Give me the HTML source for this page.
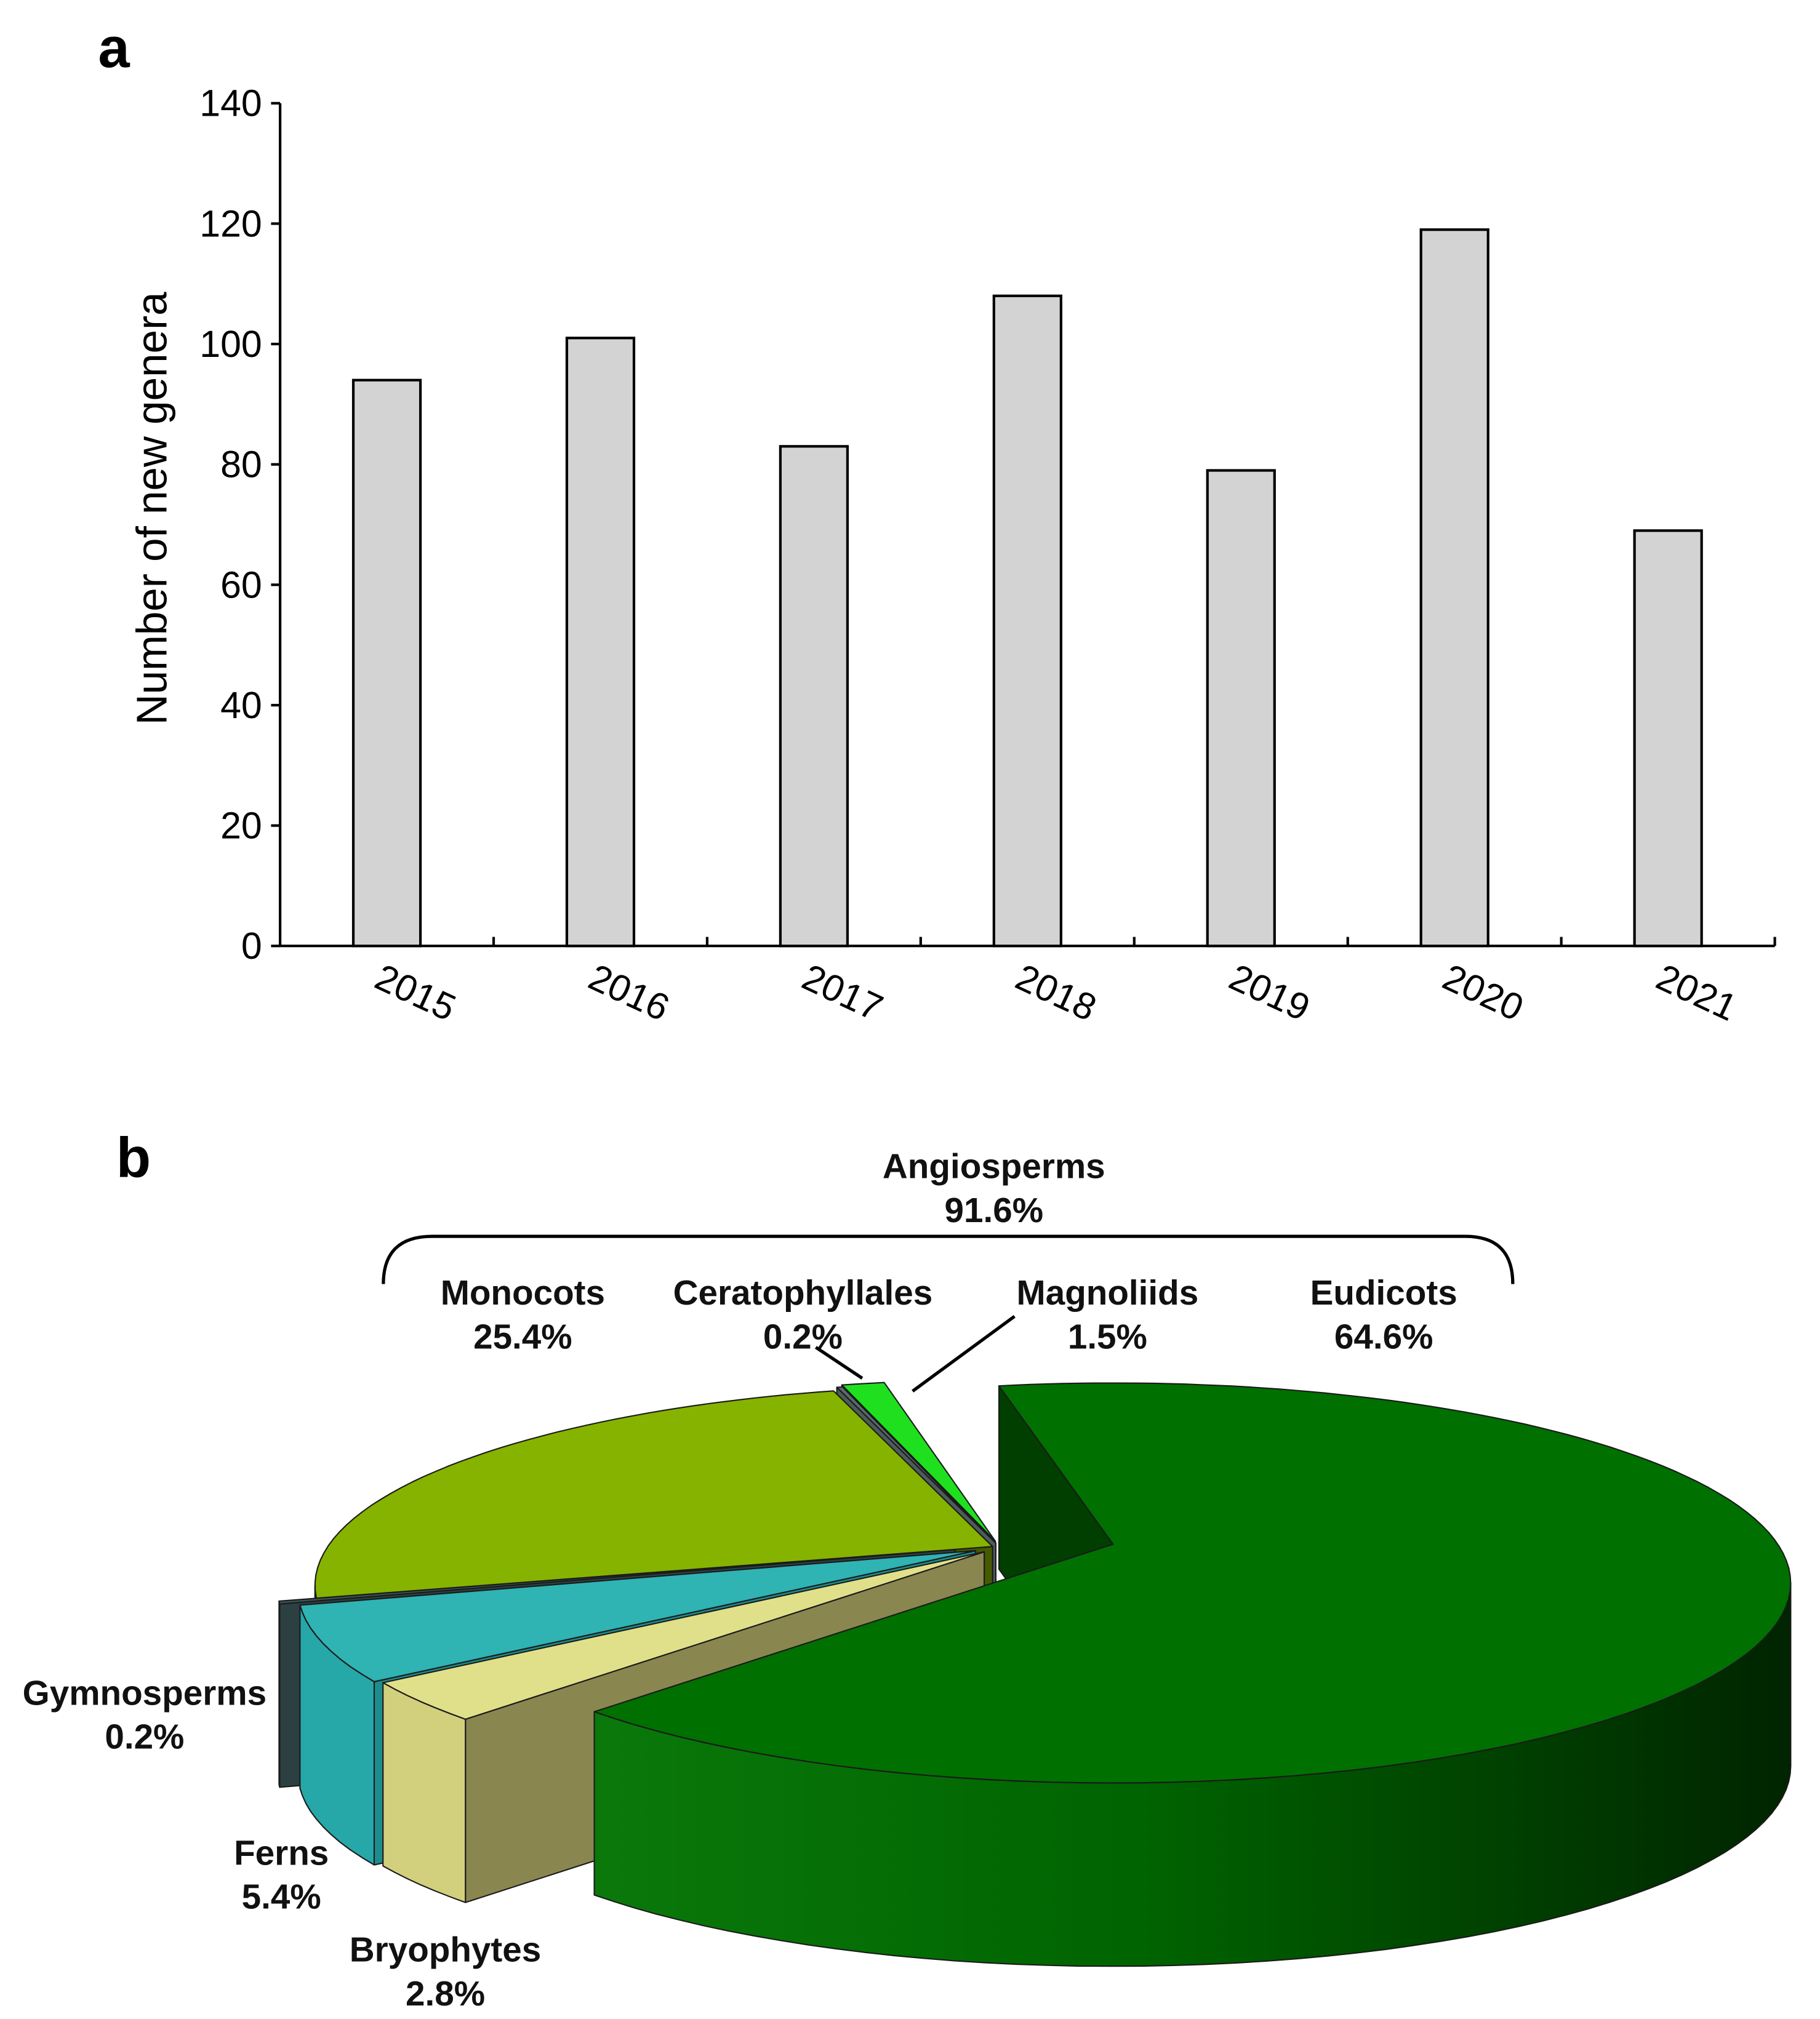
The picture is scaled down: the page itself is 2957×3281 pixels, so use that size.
<!DOCTYPE html>
<html><head><meta charset="utf-8"><style>
html,body{margin:0;padding:0;background:#fff;}
svg{display:block;font-family:"Liberation Sans",Arial,sans-serif;}
</style></head><body>
<svg id="fig" width="2957" height="3281" viewBox="0 0 1410 1564.5" xmlns="http://www.w3.org/2000/svg">
<defs>
<linearGradient id="eudWall" x1="470" y1="0" x2="1390" y2="0" gradientUnits="userSpaceOnUse">
<stop offset="0" stop-color="#0a780a"/><stop offset="0.45" stop-color="#006400"/><stop offset="1" stop-color="#002400"/>
</linearGradient>
</defs>
<g id="chartA"></g>
<g id="chartB"></g>
<text x="76" y="52" font-size="44" font-weight="bold">a</text>
<text x="90" y="912" font-size="44" font-weight="bold">b</text>
</svg>
<script>
const NS='http://www.w3.org/2000/svg';
// ---- chart a data ----
const years=['2015','2016','2017','2018','2019','2020','2021'];
const genera=[94,101,83,108,79,119,69];
const yTicks=[0,20,40,60,80,100,120,140];
// ---- chart b data ----
const groups=['Eudicots','Bryophytes','Ferns','Gymnosperms','Monocots','Ceratophyllales','Magnoliids'];
const shares=[64.6,2.8,5.4,0.2,25.4,0.2,1.5];

function mk(tag,attrs,parent){const e=document.createElementNS(NS,tag);for(const k in attrs)e.setAttribute(k,attrs[k]);parent.appendChild(e);return e;}

// ---- chart a ----
const A=document.getElementById('chartA');
const X0=217,X1=1375,Y0=733,Y1=80,YMAX=140;
const yS=v=>Y0-(v/YMAX)*(Y0-Y1);
const band=(X1-X0)/years.length;
const xC=i=>X0+band*(i+0.5);
let ax=mk('line',{x1:X0,y1:Y1,x2:X0,y2:Y0,stroke:'#000','stroke-width':2},A);

let bx=mk('line',{x1:X0,y1:Y0,x2:X1,y2:Y0,stroke:'#000','stroke-width':2},A);

yTicks.forEach(v=>{
  const tk=mk('line',{x1:X0-7,y1:yS(v),x2:X0,y2:yS(v),stroke:'#000','stroke-width':2},A);
  
  const t=mk('text',{x:X0-14,y:yS(v)+10,'font-size':29,'text-anchor':'end'},A);t.textContent=v;
  
});
for(let i=1;i<=years.length;i++){
  const tk=mk('line',{x1:X0+band*i,y1:Y0-7,x2:X0+band*i,y2:Y0,stroke:'#000','stroke-width':2},A);
  
}
years.forEach((y,i)=>{
  const bw=52;
  const r=mk('rect',{x:xC(i)-bw/2,y:yS(genera[i]),width:bw,height:Y0-yS(genera[i]),fill:'#d3d3d3',stroke:'#000','stroke-width':2},A);
  
  const t=mk('text',{transform:`translate(${xC(i)+18},${Y0+45}) rotate(25)`,'font-size':29,'text-anchor':'middle'},A);t.textContent=y;
  
});
const yt=mk('text',{transform:'translate(129,394) rotate(-90)','font-size':33,'text-anchor':'middle'},A);
yt.textContent='Number of new genera';


// ---- chart b (pseudo-3D pie) ----
const B=document.getElementById('chartB');
const CX=775,CY=1230,RX=525,RY=155,K=30,D=142,START=-14.6,WARP=19.5;
const explode=[88,15,20,35,8,15,20];
const topC=['#007000','#e0e08a','#2fb3b3','#3a5557','#86b300','#5a6a6a','#1fe01f'];
const wallC=['url(#eudWall)','#d2d07c','#27a8a8','#324a4c','#6e9400','#4d5b5b','#18b818'];
const faceC=['#003f00','#8a8650','#1d8c8c','#2c4042','#465a00','#4d5b5b','#0f9a0f'];
const rad=a=>a*Math.PI/180;
const warp=a=>a-WARP*Math.sin(rad(a));
function unwarp(p){let lo=p-40,hi=p+40;for(let k=0;k<60;k++){const m=(lo+hi)/2;if(warp(m)<p)lo=m;else hi=m;}return (lo+hi)/2;}
let acc=START;const sl=[];
shares.forEach((s,i)=>{const a1=acc,a2=acc+s*3.6;acc=a2;sl.push({i,a1,a2});});
function geo(sv){
  const m=rad(warp((sv.a1+sv.a2)/2)),e=explode[sv.i];
  const cx=CX+e*Math.sin(m),cy=CY-e*Math.cos(m)*RY/RX;
  const rim=a=>{const p=rad(warp(a));return [cx+RX*Math.sin(p),cy-RY*Math.cos(p)];};
  return {cx,cy,apex:[cx,cy-K],rim};
}
function arcPts(g,a1,a2,dy){const n=Math.max(2,Math.ceil((a2-a1)/2));const p=[];for(let k=0;k<=n;k++){const q=g.rim(a1+(a2-a1)*k/n);p.push([q[0],q[1]+dy]);}return p;}
const pstr=p=>p.map(q=>q[0].toFixed(1)+','+q[1].toFixed(1)).join(' ');
const order=[6,5,4,3,2,1,0];
order.forEach(idx=>{
  const sv=sl[idx],g=geo(sv),name=groups[idx].toLowerCase();
  const gr=mk('g',{stroke:'#1a1a1a','stroke-width':1,'stroke-linejoin':'round'},B);
  
  [[sv.a1,sv.a1-90],[sv.a2,sv.a2+90]].forEach(([a,nrm])=>{
    if(Math.cos(rad(nrm))>=0) return;
    const r=g.rim(a);
    const f=mk('polygon',{points:pstr([g.apex,r,[r[0],r[1]+D],[g.apex[0],g.apex[1]+D]]),fill:faceC[idx]},gr);
    
  });
  for(let base=-360;base<=360;base+=360){
    const w1=Math.max(sv.a1,unwarp(base+90)),w2=Math.min(sv.a2,unwarp(base+270));
    if(w2>w1){
      const top=arcPts(g,w1,w2,0),bot=arcPts(g,w1,w2,D).reverse();
      const w=mk('polygon',{points:pstr(top.concat(bot)),fill:wallC[idx]},gr);
      
    }
  }
  const t=mk('polygon',{points:pstr([g.apex].concat(arcPts(g,sv.a1,sv.a2,0))),fill:topC[idx]},gr);
  
});

// labels for pie
const LG=mk('g',{},document.getElementById('fig'));

const labs=[['Angiosperms','91.6%',770,913],['Monocots','25.4%',405,1011],['Ceratophyllales','0.2%',622,1011],['Magnoliids','1.5%',858,1011],['Eudicots','64.6%',1072,1011],['Gymnosperms','0.2%',112,1321],['Ferns','5.4%',218,1445],['Bryophytes','2.8%',345,1520]];
labs.forEach(l=>{
  const t=mk('text',{x:l[2],y:l[3],'font-size':27,'font-weight':'bold','text-anchor':'middle',fill:'#111'},LG);
  t.textContent=l[0];
  
  const p=mk('text',{x:l[2],y:l[3]+34,'font-size':27,'font-weight':'bold','text-anchor':'middle',fill:'#111'},LG);
  p.textContent=l[1];
  
});
const br=mk('path',{d:'M297,995 Q297,958 335,958 L1135,958 Q1172,958 1172,995',fill:'none',stroke:'#000','stroke-width':2.5},LG);

const l1=mk('line',{x1:632,y1:1044,x2:668,y2:1068,stroke:'#000','stroke-width':2.5},LG);

const l2=mk('line',{x1:786,y1:1020,x2:707,y2:1078,stroke:'#000','stroke-width':2.5},LG);

</script>
</body></html>
